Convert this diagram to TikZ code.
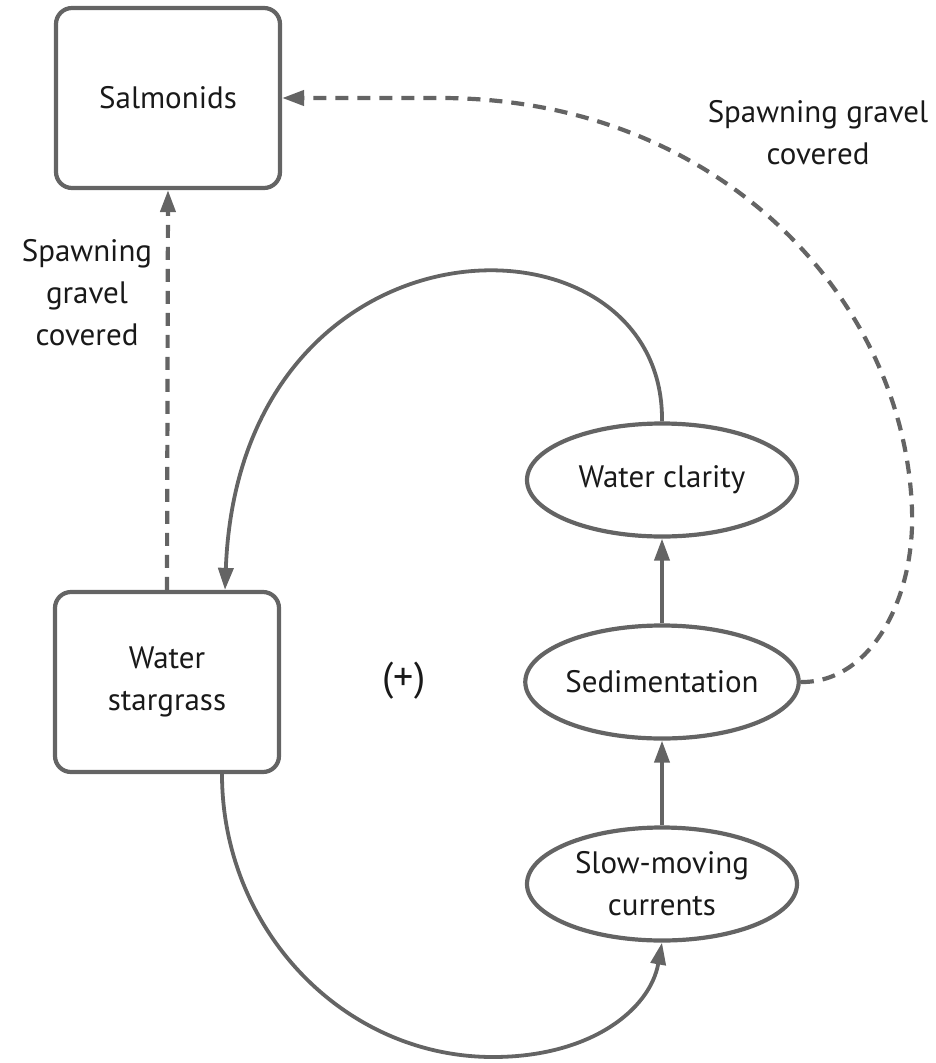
\documentclass[tikz,border=0pt]{standalone}
\usepackage{fontspec}
\setmainfont{PT Sans}
\usetikzlibrary{arrows.meta,shapes.geometric,calc}
\definecolor{lg}{RGB}{100,100,100}
\definecolor{tx}{RGB}{25,25,25}
\begin{document}
\begin{tikzpicture}[x=1pt,y=-1pt,
  every node/.style={font=\fontsize{31}{42}\selectfont, text=tx, align=center},
  box/.style={draw=lg, line width=4.2pt, rounded corners=16pt, minimum width=224pt, minimum height=180pt, inner sep=0pt},
  oval/.style={ellipse, draw=lg, line width=4.2pt, minimum width=270pt, minimum height=113pt, inner sep=0pt},
  link/.style={draw=lg, line width=3.8pt, -{Triangle[length=22pt,width=15pt]}},
  dlink/.style={link, line width=4.2pt, dash pattern=on 13pt off 9pt}]
\useasboundingbox (0,0) rectangle (935,1063);
\node[box] (sal) at (168,98) {Salmonids};
\node[box] (ws) at (167,682) {Water\\stargrass};
\node[oval] (wc) at (662,480) {Water clarity};
\node[oval] (sed) at (662,682) {Sedimentation};
\node[oval] (slow) at (662,884) {Slow-moving\\currents};
\node[font=\fontsize{40}{48}\selectfont] (plus) at (404,681) {(+)};
\node (lab1) at (87,293) {Spawning\\gravel\\covered};
\node (lab2) at (818,133) {Spawning gravel\\covered};
\draw[link] (slow.north) -- (sed.south);
\draw[link] (sed.north) -- (wc.south);
\draw[dlink] (ws.north) -- (sal.south);
\coordinate (wsTop) at ($(ws.north)+(58,0)$);
\draw[link] (wc.north) .. controls (665,200) and (240,200) .. (wsTop);
\coordinate (wsBot) at ($(ws.south)+(55,0)$);
\draw[link] (wsBot) .. controls (222,929) and (343,1057) .. (493,1057) .. controls (590,1057) and (650,1010) .. (slow.south);
\coordinate (bend) at (440,98);
\draw[dlink] (sed.east) .. controls (870,683) and (915,600) .. (912,510) .. controls (905,300) and (720,98) .. (bend) -- (sal.east);
\end{tikzpicture}
\end{document}
